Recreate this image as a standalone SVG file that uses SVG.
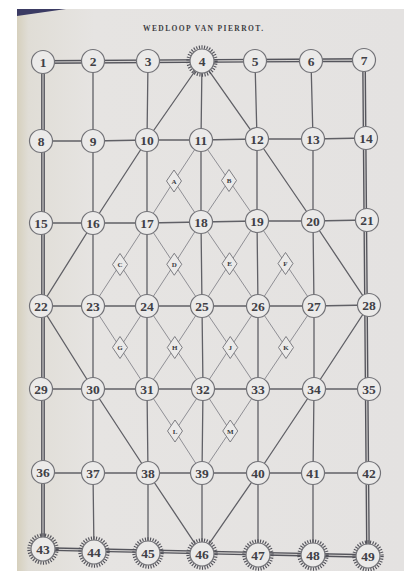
<svg xmlns="http://www.w3.org/2000/svg" width="404" height="571" viewBox="0 0 404 571">
<defs>
<linearGradient id="pg" x1="0" y1="0" x2="1" y2="0">
<stop offset="0" stop-color="#d6d0bd"/>
<stop offset="0.03" stop-color="#e0ddd6"/>
<stop offset="0.2" stop-color="#e6e4e2"/>
<stop offset="1" stop-color="#e4e2e1"/>
</linearGradient>
<style>
.g{fill:none;stroke:#606066;stroke-width:1.3}
.bd{fill:none;stroke:#55555c;stroke-width:3.8;stroke-linejoin:miter}
.bi{fill:none;stroke:#d4d2d1;stroke-width:1.1}
.lt{fill:none;stroke:#808086;stroke-width:0.85}
.n circle.c{fill:#ebeae9;stroke:#727277;stroke-width:1.2}
.n circle.s{fill:none;stroke:#52525a;stroke-width:3.4;stroke-dasharray:1.1 1.5}
.n text{font-family:"Liberation Serif","DejaVu Serif",serif;font-weight:bold;font-size:13.5px;fill:#404046;text-anchor:middle}
.d polygon{fill:#ebeae9;stroke:#727277;stroke-width:0.9}
.d text{font-family:"Liberation Serif","DejaVu Serif",serif;font-weight:bold;font-size:7px;fill:#3a3a40;text-anchor:middle}
.t{font-family:"Liberation Serif","DejaVu Serif",serif;font-weight:bold;font-size:7.5px;fill:#3e3e44;text-anchor:middle}
</style>
</defs>
<rect x="0" y="0" width="404" height="571" fill="#ffffff"/>
<rect x="17" y="9" width="387" height="562" fill="url(#pg)"/>
<polygon points="17,9 66,9 17,16" fill="#3b3b63"/>
<text class="t" x="203" y="31" textLength="120" lengthAdjust="spacing">WEDLOOP VAN PIERROT.</text>

<g id="connectors">
<path class="bd" d="M43,62 L364,60 L368,556 L43,549 Z"/>
<path class="bi" d="M43,62 L364,60 L368,556 L43,549 Z"/>
<path class="g" d="M41,141 L93,141 L147,140 L201,140 L257,139 L313,139 L366,138"/>
<path class="g" d="M41,223 L93,223 L147,223 L201,222 L257,221 L313,221 L367,220"/>
<path class="g" d="M41,306 L93,306 L147,306 L202,306 L258,306 L314,306 L369,305"/>
<path class="g" d="M41,389 L93,389 L147,389 L203,389 L258,389 L314,389 L369,389"/>
<path class="g" d="M43,473 L93,473 L148,473 L202,473 L258,473 L313,473 L369,473"/>
<path class="g" d="M93,61 L93,141 L93,223 L93,306 L93,389 L93,473 L94,552"/>
<path class="g" d="M148,61 L147,140 L147,223 L147,306 L147,389 L148,473 L148,553"/>
<path class="g" d="M202,61 L201,140 L201,222 L202,306 L203,389 L202,473 L202,554"/>
<path class="g" d="M255,61 L257,139 L257,221 L258,306 L258,389 L258,473 L258,555"/>
<path class="g" d="M311,61 L313,139 L313,221 L314,306 L314,389 L313,473 L313,555"/>
<path class="g" d="M202,61 L147,140 L93,223 L41,306 L93,389 L148,473 L202,554 L258,473 L314,389 L369,305 L313,221 L257,139 Z"/>
<path class="lt" d="M93,306 L120,347.5 L147,389 L175,431 L202,473"/>
<path class="lt" d="M120,264.5 L147,306 L174.75,347.5 L203,389 L230.25,431"/>
<path class="lt" d="M147,223 L174.25,264.25 L202,306 L230.25,347.5 L258,389"/>
<path class="lt" d="M174,181 L201,222 L229.5,263.75 L258,306 L286,347.5"/>
<path class="lt" d="M201,140 L229,180.5 L257,221 L285.5,263.5 L314,306"/>
<path class="lt" d="M201,140 L174,181 L147,223 L120,264.5 L93,306"/>
<path class="lt" d="M229,180.5 L201,222 L174.25,264.25 L147,306 L120,347.5"/>
<path class="lt" d="M257,221 L229.5,263.75 L202,306 L174.75,347.5 L147,389"/>
<path class="lt" d="M285.5,263.5 L258,306 L230.25,347.5 L203,389 L175,431"/>
<path class="lt" d="M314,306 L286,347.5 L258,389 L230.25,431 L202,473"/>
</g>

<g id="diamonds">
<g id="dA" class="d"><polygon points="174,170 181.5,181 174,192 166.5,181"/><text x="174" y="183.5">A</text></g>
<g id="dB" class="d"><polygon points="229,169.5 236.5,180.5 229,191.5 221.5,180.5"/><text x="229" y="183">B</text></g>
<g id="dC" class="d"><polygon points="120,253.5 127.5,264.5 120,275.5 112.5,264.5"/><text x="120" y="267">C</text></g>
<g id="dD" class="d"><polygon points="174.25,253.25 181.75,264.25 174.25,275.25 166.75,264.25"/><text x="174.25" y="266.75">D</text></g>
<g id="dE" class="d"><polygon points="229.5,252.75 237,263.75 229.5,274.75 222,263.75"/><text x="229.5" y="266.25">E</text></g>
<g id="dF" class="d"><polygon points="285.5,252.5 293,263.5 285.5,274.5 278,263.5"/><text x="285.5" y="266">F</text></g>
<g id="dG" class="d"><polygon points="120,336.5 127.5,347.5 120,358.5 112.5,347.5"/><text x="120" y="350">G</text></g>
<g id="dH" class="d"><polygon points="174.75,336.5 182.25,347.5 174.75,358.5 167.25,347.5"/><text x="174.75" y="350">H</text></g>
<g id="dJ" class="d"><polygon points="230.25,336.5 237.75,347.5 230.25,358.5 222.75,347.5"/><text x="230.25" y="350">J</text></g>
<g id="dK" class="d"><polygon points="286,336.5 293.5,347.5 286,358.5 278.5,347.5"/><text x="286" y="350">K</text></g>
<g id="dL" class="d"><polygon points="175,420 182.5,431 175,442 167.5,431"/><text x="175" y="433.5">L</text></g>
<g id="dM" class="d"><polygon points="230.25,420 237.75,431 230.25,442 222.75,431"/><text x="230.25" y="433.5">M</text></g>
</g>

<g id="nodes">
<g id="n1" class="n"><circle class="c" cx="43" cy="62" r="11.5"/><text x="43" y="67">1</text></g>
<g id="n2" class="n"><circle class="c" cx="93" cy="61" r="11.5"/><text x="93" y="66">2</text></g>
<g id="n3" class="n"><circle class="c" cx="148" cy="61" r="11.5"/><text x="148" y="66">3</text></g>
<g id="n4" class="n"><circle class="s" cx="202" cy="61" r="14"/><circle class="c" cx="202" cy="61" r="12"/><text x="202" y="66">4</text></g>
<g id="n5" class="n"><circle class="c" cx="255" cy="61" r="11.5"/><text x="255" y="66">5</text></g>
<g id="n6" class="n"><circle class="c" cx="311" cy="61" r="11.5"/><text x="311" y="66">6</text></g>
<g id="n7" class="n"><circle class="c" cx="364" cy="60" r="11.5"/><text x="364" y="65">7</text></g>

<g id="n8" class="n"><circle class="c" cx="41" cy="141" r="11.5"/><text x="41" y="146">8</text></g>
<g id="n9" class="n"><circle class="c" cx="93" cy="141" r="11.5"/><text x="93" y="146">9</text></g>
<g id="n10" class="n"><circle class="c" cx="147" cy="140" r="11.5"/><text x="147" y="145">10</text></g>
<g id="n11" class="n"><circle class="c" cx="201" cy="140" r="11.5"/><text x="201" y="145">11</text></g>
<g id="n12" class="n"><circle class="c" cx="257" cy="139" r="11.5"/><text x="257" y="144">12</text></g>
<g id="n13" class="n"><circle class="c" cx="313" cy="139" r="11.5"/><text x="313" y="144">13</text></g>
<g id="n14" class="n"><circle class="c" cx="366" cy="138" r="11.5"/><text x="366" y="143">14</text></g>

<g id="n15" class="n"><circle class="c" cx="41" cy="223" r="11.5"/><text x="41" y="228">15</text></g>
<g id="n16" class="n"><circle class="c" cx="93" cy="223" r="11.5"/><text x="93" y="228">16</text></g>
<g id="n17" class="n"><circle class="c" cx="147" cy="223" r="11.5"/><text x="147" y="228">17</text></g>
<g id="n18" class="n"><circle class="c" cx="201" cy="222" r="11.5"/><text x="201" y="227">18</text></g>
<g id="n19" class="n"><circle class="c" cx="257" cy="221" r="11.5"/><text x="257" y="226">19</text></g>
<g id="n20" class="n"><circle class="c" cx="313" cy="221" r="11.5"/><text x="313" y="226">20</text></g>
<g id="n21" class="n"><circle class="c" cx="367" cy="220" r="11.5"/><text x="367" y="225">21</text></g>

<g id="n22" class="n"><circle class="c" cx="41" cy="306" r="11.5"/><text x="41" y="311">22</text></g>
<g id="n23" class="n"><circle class="c" cx="93" cy="306" r="11.5"/><text x="93" y="311">23</text></g>
<g id="n24" class="n"><circle class="c" cx="147" cy="306" r="11.5"/><text x="147" y="311">24</text></g>
<g id="n25" class="n"><circle class="c" cx="202" cy="306" r="11.5"/><text x="202" y="311">25</text></g>
<g id="n26" class="n"><circle class="c" cx="258" cy="306" r="11.5"/><text x="258" y="311">26</text></g>
<g id="n27" class="n"><circle class="c" cx="314" cy="306" r="11.5"/><text x="314" y="311">27</text></g>
<g id="n28" class="n"><circle class="c" cx="369" cy="305" r="11.5"/><text x="369" y="310">28</text></g>

<g id="n29" class="n"><circle class="c" cx="41" cy="389" r="11.5"/><text x="41" y="394">29</text></g>
<g id="n30" class="n"><circle class="c" cx="93" cy="389" r="11.5"/><text x="93" y="394">30</text></g>
<g id="n31" class="n"><circle class="c" cx="147" cy="389" r="11.5"/><text x="147" y="394">31</text></g>
<g id="n32" class="n"><circle class="c" cx="203" cy="389" r="11.5"/><text x="203" y="394">32</text></g>
<g id="n33" class="n"><circle class="c" cx="258" cy="389" r="11.5"/><text x="258" y="394">33</text></g>
<g id="n34" class="n"><circle class="c" cx="314" cy="389" r="11.5"/><text x="314" y="394">34</text></g>
<g id="n35" class="n"><circle class="c" cx="369" cy="389" r="11.5"/><text x="369" y="394">35</text></g>

<g id="n36" class="n"><circle class="c" cx="43" cy="472" r="11.5"/><text x="43" y="477">36</text></g>
<g id="n37" class="n"><circle class="c" cx="93" cy="473" r="11.5"/><text x="93" y="478">37</text></g>
<g id="n38" class="n"><circle class="c" cx="148" cy="473" r="11.5"/><text x="148" y="478">38</text></g>
<g id="n39" class="n"><circle class="c" cx="202" cy="473" r="11.5"/><text x="202" y="478">39</text></g>
<g id="n40" class="n"><circle class="c" cx="258" cy="473" r="11.5"/><text x="258" y="478">40</text></g>
<g id="n41" class="n"><circle class="c" cx="313" cy="473" r="11.5"/><text x="313" y="478">41</text></g>
<g id="n42" class="n"><circle class="c" cx="369" cy="473" r="11.5"/><text x="369" y="478">42</text></g>

<g id="n43" class="n"><circle class="s" cx="43" cy="549" r="14"/><circle class="c" cx="43" cy="549" r="12"/><text x="43" y="554">43</text></g>
<g id="n44" class="n"><circle class="s" cx="94" cy="552" r="14"/><circle class="c" cx="94" cy="552" r="12"/><text x="94" y="557">44</text></g>
<g id="n45" class="n"><circle class="s" cx="148" cy="553" r="14"/><circle class="c" cx="148" cy="553" r="12"/><text x="148" y="558">45</text></g>
<g id="n46" class="n"><circle class="s" cx="202" cy="554" r="14"/><circle class="c" cx="202" cy="554" r="12"/><text x="202" y="559">46</text></g>
<g id="n47" class="n"><circle class="s" cx="258" cy="555" r="14"/><circle class="c" cx="258" cy="555" r="12"/><text x="258" y="560">47</text></g>
<g id="n48" class="n"><circle class="s" cx="313" cy="555" r="14"/><circle class="c" cx="313" cy="555" r="12"/><text x="313" y="560">48</text></g>
<g id="n49" class="n"><circle class="s" cx="368" cy="556" r="14"/><circle class="c" cx="368" cy="556" r="12"/><text x="368" y="561">49</text></g>
</g>
</svg>
